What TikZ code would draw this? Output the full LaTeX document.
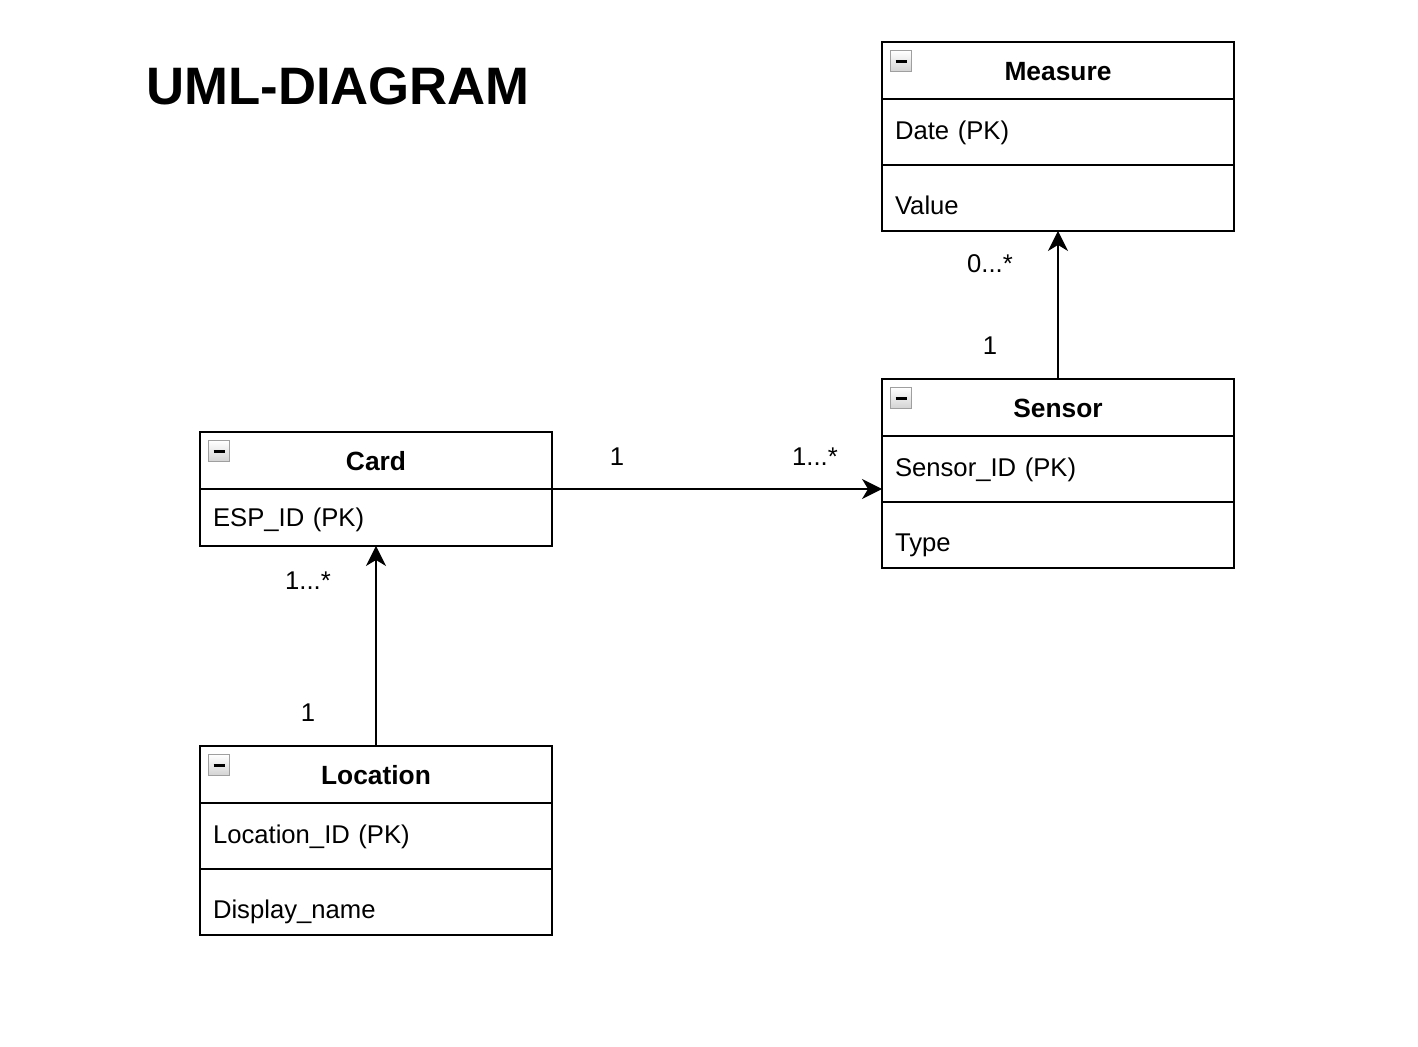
\documentclass[tikz,border=0pt]{standalone}
\usepackage{fontspec}
\setmainfont{Liberation Sans}
\usetikzlibrary{positioning,arrows.meta}

\tikzset{
    classhead/.style={draw, line width=1pt, minimum width=7.04cm, minimum height=1.14cm,
        inner sep=0pt, outer sep=0pt, text height=0.5cm, text depth=0.1cm,
        font=\fontsize{15}{18}\selectfont\bfseries},
    classrow/.style={draw, line width=1pt, minimum width=7.04cm, minimum height=1.32cm,
        text width=6.52cm, inner xsep=0.26cm, inner ysep=0pt, outer sep=0pt, align=left,
        text height=0.4cm, text depth=0.1cm, font=\fontsize{14.6}{17}\selectfont},
    classlast/.style={classrow, text height=0.76cm},
    collapsebox/.style={draw=gray!75, line width=0.8pt, top color=white,
        bottom color=gray!35, minimum size=0.42cm, inner sep=0pt,
        path picture={\draw[draw=black, line width=1.7pt] ([xshift=0.1cm]path picture bounding box.west)
            -- ([xshift=-0.1cm]path picture bounding box.east);}},
    mult/.style={font=\fontsize{14.6}{17}\selectfont, inner sep=1pt},
    assoc/.style={-{Stealth[length=0.4cm,width=0.4cm,inset=0.12cm]}, line width=1pt}
}

\begin{document}
\begin{tikzpicture}[x=0.02cm, y=-0.02cm]

    \useasboundingbox (0,0) rectangle (1418,1046);

    \node[anchor=base west, inner sep=0pt, font=\fontsize{30}{34}\selectfont\bfseries] (title) at (146,104) {UML-DIAGRAM};

    % Measure
    \node[classhead] (measure) at (1058,70.5) {Measure};
    \node[classrow, below=0pt of measure] (measure-date) {Date (PK)};
    \node[classlast, below=0pt of measure-date] (measure-value) {Value};
    \node[collapsebox, below right=0.16cm and 0.16cm of measure.north west] (measure-icon) {};

    % Sensor
    \node[classhead] (sensor) at (1058,407.5) {Sensor};
    \node[classrow, below=0pt of sensor] (sensor-id) {Sensor\_ID (PK)};
    \node[classlast, below=0pt of sensor-id] (sensor-type) {Type};
    \node[collapsebox, below right=0.16cm and 0.16cm of sensor.north west] (sensor-icon) {};

    % Card
    \node[classhead] (card) at (376,460.5) {Card};
    \node[classrow, minimum height=1.14cm, text height=0.46cm, below=0pt of card] (card-esp) {ESP\_ID (PK)};
    \node[collapsebox, below right=0.16cm and 0.16cm of card.north west] (card-icon) {};

    % Location
    \node[classhead] (location) at (376,774.5) {Location};
    \node[classrow, below=0pt of location] (location-id) {Location\_ID (PK)};
    \node[classlast, below=0pt of location-id] (location-name) {Display\_name};
    \node[collapsebox, below right=0.16cm and 0.16cm of location.north west] (location-icon) {};

    % associations
    \draw[assoc] (card.south east) -- (card.south east -| sensor.west);
    \draw[assoc] (sensor.north) -- (measure-value.south);
    \draw[assoc] (location.north) -- (card-esp.south);

    % multiplicities
    \node[mult] (card-one) at (617,457) {1};
    \node[mult] (sensor-many) at (815,457) {1...*};
    \node[mult] (measure-many) at (990,264) {0...*};
    \node[mult] (sensor-one) at (990,346) {1};
    \node[mult] (card-many) at (308,581) {1...*};
    \node[mult] (location-one) at (308,713) {1};

\end{tikzpicture}
\end{document}
